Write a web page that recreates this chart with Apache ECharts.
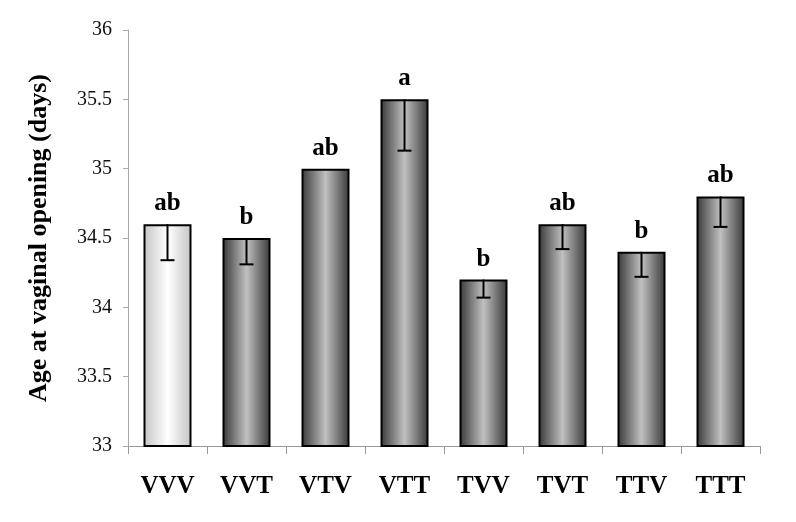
<!DOCTYPE html>
<html>
<head>
<meta charset="utf-8">
<script src="https://cdn.jsdelivr.net/npm/echarts@6/dist/echarts.min.js"></script>
<style>
  html, body { margin: 0; padding: 0; background: #fff; }
  #main { width: 796px; height: 522px; }
</style>
</head>
<body>
<div id="main"></div>
<script>
// data
var groups = ['VVV', 'VVT', 'VTV', 'VTT', 'TVV', 'TVT', 'TTV', 'TTT'];
var ageMean = [34.6, 34.5, 35.0, 35.5, 34.2, 34.6, 34.4, 34.8];
var ageErr = [0.26, 0.19, 0, 0.37, 0.13, 0.18, 0.18, 0.22];
var letters = ['ab', 'b', 'ab', 'a', 'b', 'ab', 'b', 'ab'];
var yTicks = [33, 33.5, 34, 34.5, 35, 35.5, 36];

var serif = '"Liberation Serif", "Times New Roman", serif';

function barGrad(edge, mid) {
  return new echarts.graphic.LinearGradient(0, 0, 1, 0, [
    { offset: 0, color: edge },
    { offset: 0.5, color: mid },
    { offset: 1, color: edge }
  ]);
}

var chart = echarts.init(document.getElementById('main'));

var option = {
  animation: false,
  grid: { left: 128, right: 36, top: 30, bottom: 76 },
  xAxis: {
    type: 'category',
    data: groups,
    axisLine: { lineStyle: { color: '#999', width: 1 } },
    axisTick: { show: true, length: 8, lineStyle: { color: '#999' } },
    axisLabel: {
      margin: 28,
      color: '#000',
      fontFamily: serif,
      fontWeight: 'bold',
      fontSize: 25
    }
  },
  yAxis: {
    type: 'value',
    min: 33,
    max: 36,
    interval: 0.5,
    name: 'Age at vaginal opening (days)',
    nameLocation: 'middle',
    nameGap: 76,
    nameTextStyle: {
      color: '#000',
      fontFamily: serif,
      fontWeight: 'bold',
      fontSize: 26
    },
    axisLine: { show: true, lineStyle: { color: '#aaa', width: 1 } },
    axisTick: { show: true, length: 5, lineStyle: { color: '#aaa' } },
    splitLine: { show: false },
    axisLabel: {
      margin: 16,
      color: '#111',
      fontFamily: serif,
      fontSize: 20,
      formatter: function (v) { return yTicks.indexOf(v) >= 0 ? String(v) : ''; }
    }
  },
  series: [
    {
      type: 'bar',
      barWidth: 48,
      data: ageMean.map(function (v, i) {
        return {
          value: v,
          itemStyle: {
            color: i === 0 ? barGrad('#c4c4c4', '#ffffff') : barGrad('#383838', '#c0c0c0'),
            borderColor: '#000',
            borderWidth: 2
          }
        };
      }),
      label: {
        show: true,
        position: 'top',
        distance: 8,
        color: '#000',
        fontFamily: serif,
        fontWeight: 'bold',
        fontSize: 25,
        formatter: function (p) { return letters[p.dataIndex]; }
      }
    },
    {
      type: 'custom',
      data: ageMean.map(function (v, i) { return [i, v, v - ageErr[i]]; }),
      renderItem: function (params, api) {
        if (api.value(1) === api.value(2)) return null;
        var top = api.coord([api.value(0), api.value(1)]);
        var bot = api.coord([api.value(0), api.value(2)]);
        var half = 7;
        var style = { stroke: '#000', lineWidth: 2 };
        return {
          type: 'group',
          children: [
            { type: 'line', shape: { x1: top[0], y1: top[1], x2: bot[0], y2: bot[1] }, style: style },
            { type: 'line', shape: { x1: bot[0] - half, y1: bot[1], x2: bot[0] + half, y2: bot[1] }, style: style }
          ]
        };
      },
      z: 10
    }
  ]
};

chart.setOption(option);
</script>
</body>
</html>
